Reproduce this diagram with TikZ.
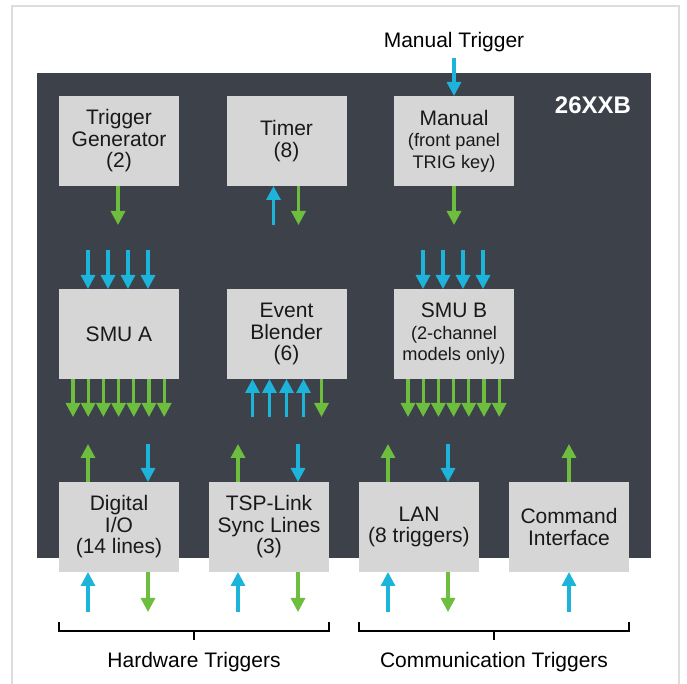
\documentclass[tikz,border=0pt]{standalone}
\usepackage{fontspec}
\setmainfont{Liberation Sans}
\usetikzlibrary{positioning, calc}
\usetikzlibrary{arrows.meta}
\definecolor{panel}{HTML}{3D4149}
\definecolor{boxgray}{HTML}{D6D6D6}
\definecolor{trigblue}{HTML}{1DB4DC}
\definecolor{triggreen}{HTML}{6DBE3E}
\definecolor{framegray}{HTML}{DDDDDD}
\newcommand{\boxfont}{\fontsize{21}{21.5}\selectfont}
\newcommand{\smalltxt}{\fontsize{18.2}{20}\selectfont}
\tikzstyle{block} = [rectangle, fill=boxgray, text=black!90, minimum width=120pt,
    minimum height=90pt, inner sep=0pt, outer sep=0pt, align=center, font=\boxfont]
\tikzstyle{bluearrow} = [draw=trigblue, line width=3.2pt, -{Triangle[width=14pt,length=14pt]}]
\tikzstyle{greenarrow} = [draw=triggreen, line width=3.2pt, -{Triangle[width=14pt,length=14pt]}]
\tikzstyle{bracket} = [draw, line width=1.5pt]

\begin{document}
\begin{tikzpicture}[x=1pt, y=1pt, node distance=47.5pt]
  \useasboundingbox (0,0) rectangle (687,684);
  \draw[framegray, line width=1.2pt] (12,0) -- (12,678) -- (679,678) -- (679,0);
  \fill[panel] (37,126) rectangle (651,611);
  % Place nodes
  \node [block] (tgen) at (119,543) {Trigger\\Generator\\(2)};
  \node [block, right=of tgen] (timer) {Timer\\(8)};
  \node [block, right=of timer] (manual) {Manual\\\smalltxt(front panel\\\smalltxt TRIG key)};
  \node [block, below=103pt of tgen] (smuA) {SMU A};
  \node [block, below=103pt of timer] (blender) {Event\\Blender\\(6)};
  \node [block, below=103pt of manual] (smuB) {SMU B\\\smalltxt(2-channel\\\smalltxt models only)};
  \node [block, below=103pt of smuA] (dio) {Digital\\I/O\\(14 lines)};
  \node [block, right=30pt of dio] (tsp) {TSP-Link\\Sync Lines\\(3)};
  \node [block, right=30pt of tsp] (lan) {LAN\\(8 triggers)};
  \node [block, right=30pt of lan] (cmd) {Command\\Interface};
  \node [text=white, font=\fontsize{24}{24}\bfseries\selectfont] (model) at (593,579) {26XXB};
  \node [inner sep=0pt, font=\boxfont] (mtrig) at (454,642) {Manual Trigger};
  % Draw edges
  \draw [bluearrow, shorten <=6pt] (mtrig) -- (manual);
  \draw [greenarrow] ([xshift=-1pt]tgen.south) -- ++(0,-39);
  \draw [bluearrow] ([xshift=-13pt, yshift=-39pt]timer.south) -- ([xshift=-13pt]timer.south);
  \draw [greenarrow] ([xshift=12pt]timer.south) -- ++(0,-39);
  \draw [greenarrow] (manual.south) -- ++(0,-39);
  \foreach \dx in {-31,-11,9,29} {
    \draw [bluearrow] ([xshift=\dx pt, yshift=39pt]smuA.north) -- ([xshift=\dx pt]smuA.north);
    \draw [bluearrow] ([xshift=\dx pt, yshift=39pt]smuB.north) -- ([xshift=\dx pt]smuB.north);
  }
  \foreach \dx in {-46,-30.8,-15.6,-0.4,14.8,30,45.2} {
    \draw [greenarrow] ([xshift=\dx pt]smuA.south) -- ++(0,-38);
    \draw [greenarrow] ([xshift=\dx pt]smuB.south) -- ++(0,-38);
  }
  \foreach \dx in {-34,-17,0,17}
    \draw [bluearrow] ([xshift=\dx pt, yshift=-38pt]blender.south) -- ([xshift=\dx pt]blender.south);
  \draw [greenarrow] ([xshift=35pt]blender.south) -- ++(0,-38);
  \foreach \io in {dio, tsp, lan} {
    \draw [greenarrow] ([xshift=-31pt]\io.north) -- ++(0,38);
    \draw [bluearrow] ([xshift=29pt, yshift=38pt]\io.north) -- ([xshift=29pt]\io.north);
    \draw [bluearrow] ([xshift=-31pt, yshift=-40pt]\io.south) -- ([xshift=-31pt]\io.south);
    \draw [greenarrow] ([xshift=29pt]\io.south) -- ++(0,-40);
  }
  \draw [greenarrow] (cmd.north) -- ++(0,38);
  \draw [bluearrow] ([yshift=-40pt]cmd.south) -- (cmd.south);
  % Brackets
  \coordinate (hwL) at ([yshift=-59pt]dio.south west);
  \coordinate (hwR) at ([yshift=-59pt]tsp.south east);
  \coordinate (comL) at ([yshift=-59pt]lan.south west);
  \coordinate (comR) at ([yshift=-59pt]cmd.south east);
  \draw [bracket] ([yshift=9pt]hwL) -- (hwL) -- (hwR) -- ([yshift=9pt]hwR);
  \draw [bracket] ($(hwL)!0.5!(hwR)$) -- ++(0,-9);
  \draw [bracket] ([yshift=9pt]comL) -- (comL) -- (comR) -- ([yshift=9pt]comR);
  \draw [bracket] ($(comL)!0.5!(comR)$) -- ++(0,-9);
  \node [inner sep=0pt, font=\boxfont] (hwtxt) at ($($(hwL)!0.5!(hwR)$)+(0,-31)$) {Hardware Triggers};
  \node [inner sep=0pt, font=\boxfont] (comtxt) at ($($(comL)!0.5!(comR)$)+(0,-31)$) {Communication Triggers};
\end{tikzpicture}
\end{document}
